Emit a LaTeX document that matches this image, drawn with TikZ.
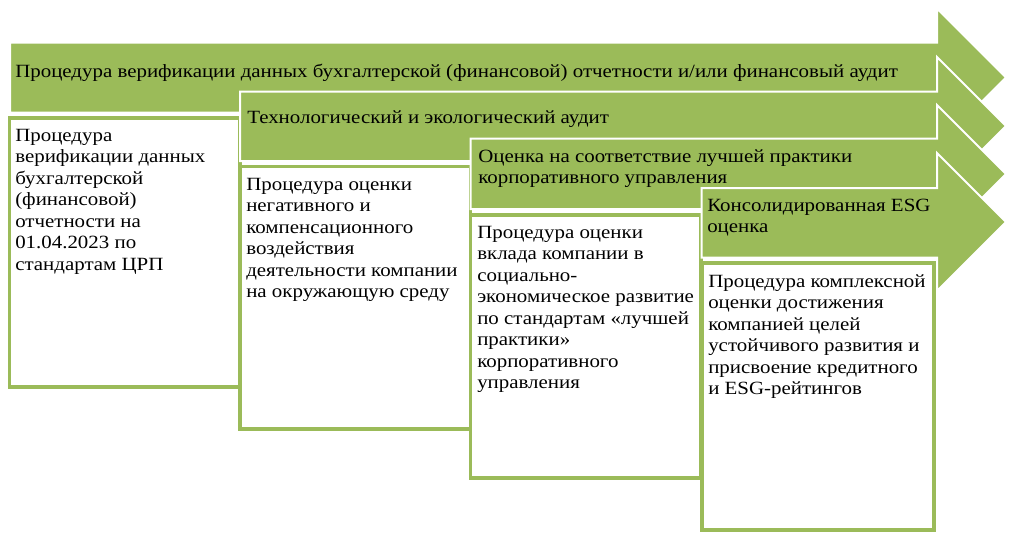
\documentclass[tikz,border=0pt]{standalone}
\usepackage{fontspec}
\setmainfont[FakeStretch=1.12]{Liberation Serif}
\usepackage{tikz}
\definecolor{stagegreen}{HTML}{9BBB59}
\tikzset{
every node/.style={anchor=north west, inner sep=0pt, align=left, font=\fontsize{14}{16.1}\selectfont},
stagearrow/.style={fill=stagegreen, draw=white, line width=1.5pt},
stagebox/.style={fill=white, draw=stagegreen, line width=2.4pt}
}

\begin{document}
\begin{tikzpicture}[x=0.75pt,y=-0.75pt]
\useasboundingbox (0,0) rectangle (1019,533);

\draw[stagearrow] (10,42.5) -- (937,42.5) -- (937,8.5) -- (1006,77.5) -- (937,146.5) -- (937,112.5) -- (10,112.5) -- cycle;
\node (stage1) at (15,62) {\strut Процедура верификации данных бухгалтерской (финансовой) отчетности и/или финансовый аудит};
\draw[stagebox] (9.5,118) rectangle (240,387);
\node (task1) at (15,126) {\strut Процедура\\верификации данных\\бухгалтерской\\(финансовой)\\отчетности на\\01.04.2023 по\\стандартам ЦРП};

\draw[stagearrow] (240,91.5) -- (937,91.5) -- (937,57) -- (1006,126) -- (937,195) -- (937,161) -- (240,161) -- cycle;
\node (stage2) at (247,108) {\strut Технологический и экологический аудит};
\draw[stagebox] (240,166.5) rectangle (470.5,429);
\node (task2) at (246,175) {\strut Процедура оценки\\негативного и\\компенсационного\\воздействия\\деятельности компании\\на окружающую среду};

\draw[stagearrow] (470.5,138.5) -- (937,138.5) -- (937,105) -- (1006,174) -- (937,243) -- (937,209) -- (470.5,209) -- cycle;
\node (stage3) at (478,147) {\strut Оценка на соответствие лучшей практики\\корпоративного управления};
\draw[stagebox] (470.5,215) rectangle (701,478);
\node (task3) at (477,223) {\strut Процедура оценки\\вклада компании в\\социально-\\экономическое развитие\\по стандартам «лучшей\\практики»\\корпоративного\\управления};

\draw[stagearrow] (701.5,188) -- (937,188) -- (937,153) -- (1006,222) -- (937,291) -- (937,257.5) -- (701.5,257.5) -- cycle;
\node (stage4) at (707,196) {\strut Консолидированная ESG\\оценка};
\draw[stagebox] (702,263) rectangle (934,530);
\node (task4) at (708,272) {\strut Процедура комплексной\\оценки достижения\\компанией целей\\устойчивого развития и\\присвоение кредитного\\и ESG-рейтингов};
\end{tikzpicture}
\end{document}
